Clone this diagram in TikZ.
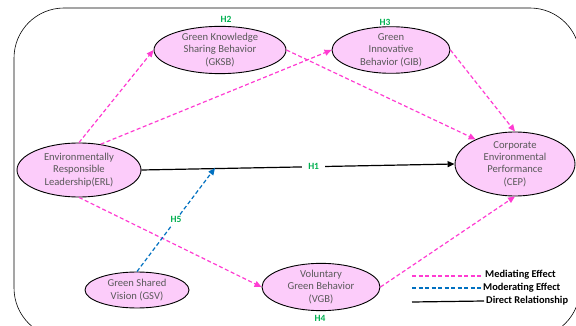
\documentclass[tikz,border=0pt]{standalone}
\usepackage{fontspec}
\setmainfont{Carlito}
\usetikzlibrary{arrows.meta,shapes.geometric}
\definecolor{nodefill}{RGB}{252,204,250}
\definecolor{txtgray}{RGB}{89,89,89}
\definecolor{medpink}{RGB}{255,60,210}
\definecolor{modblue}{RGB}{0,112,192}
\definecolor{hgreen}{RGB}{0,176,80}
\tikzset{
  constr/.style={ellipse,draw=black,line width=0.9pt,fill=nodefill,text=txtgray,align=center,inner sep=0pt,font=\fontsize{10.6}{12.3}\selectfont},
  med/.style={draw=medpink,line width=1.2pt,dash pattern=on 4pt off 2.5pt,-{Triangle[length=7pt,width=6pt]}},
  mod/.style={draw=modblue,line width=1.2pt,dash pattern=on 4pt off 2.5pt,-{Triangle[length=7pt,width=6pt]}},
  dir/.style={draw=black,line width=1.2pt,-{Triangle[length=7pt,width=6pt]}},
  hlab/.style={text=hgreen,font=\bfseries\fontsize{9.5}{10}\selectfont,inner sep=1pt},
  leg/.style={text=black,font=\bfseries\fontsize{10.4}{12}\selectfont,anchor=west,inner sep=0pt}
}
\begin{document}
\begin{tikzpicture}[x=1pt,y=-1pt]
\useasboundingbox (0,0) rectangle (576,326);
\begin{scope}
\clip (0,0) rectangle (576,326);
\draw[line width=0.6pt,rounded corners=50pt] (14,8) rectangle (580,338);
\end{scope}
% constructs
\node[constr,minimum width=132pt,minimum height=46pt] (gksb) at (220,50) {Green Knowledge\\Sharing Behavior\\(GKSB)};
\node[constr,minimum width=118pt,minimum height=43pt] (gib) at (391,50) {Green\\Innovative\\Behavior (GIB)};
\node[constr,minimum width=124pt,minimum height=54pt] (erl) at (79,170) {Environmentally\\Responsible\\Leadership(ERL)};
\node[constr,minimum width=120pt,minimum height=54pt] (cep) at (515,164) {Corporate\\Environmental\\Performance\\(CEP)};
\node[constr,minimum width=104pt,minimum height=36pt] (gsv) at (137,290) {Green Shared\\Vision (GSV)};
\node[constr,minimum width=118pt,minimum height=40pt] (vgb) at (321,287) {Voluntary\\Green Behavior\\(VGB)};
% hypothesis labels
\node[hlab] (h2) at (226,19) {H2};
\node[hlab] (h3) at (385,22) {H3};
\node[hlab] (h4) at (320,318) {H4};
% connectors
\draw[med] (erl.north) -- (gksb.west);
\draw[med] (erl.50) -- (gib.west);
\draw[med] (gksb.east) -- (cep.148);
\draw[med] (gib.east) -- (cep.north);
\draw[med] (erl.south) -- (vgb.west);
\draw[med] (vgb.east) -- (cep.south);
\draw[dir] (erl.east) -- node[pos=0.55,fill=white,hlab,inner xsep=6pt] (h1) {H1} (cep.west);
\coordinate (modpt) at (215,168);
\draw[mod] (gsv.north) -- node[pos=0.5,fill=white,hlab,inner sep=2pt] (h5) {H5} (modpt);
% legend
\coordinate (l1a) at (412,276); \coordinate (l1b) at (482,276);
\coordinate (l2a) at (412,288); \coordinate (l2b) at (482,288);
\coordinate (l3a) at (412,302); \coordinate (l3b) at (484,301);
\draw[draw=medpink,line width=1.2pt,dash pattern=on 4pt off 2.5pt] (l1a) -- (l1b);
\draw[draw=modblue,line width=1.2pt,dash pattern=on 4pt off 2.5pt] (l2a) -- (l2b);
\draw[draw=black,line width=1.2pt] (l3a) -- (l3b);
\node[leg] (t1) at (485,275) {Mediating Effect};
\node[leg] (t2) at (483,288) {Moderating Effect};
\node[leg] (t3) at (486,301) {Direct Relationship};
\end{tikzpicture}
\end{document}
